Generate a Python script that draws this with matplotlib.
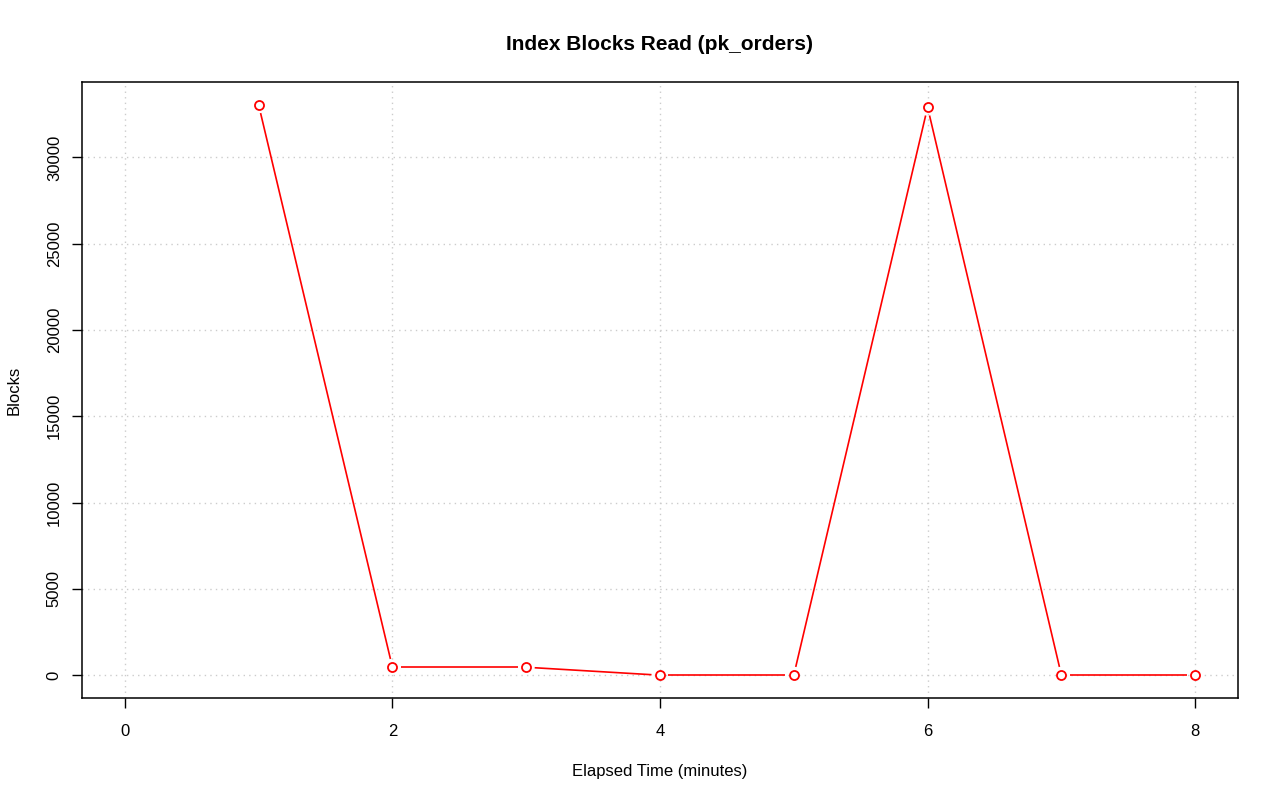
import numpy as np
import matplotlib
matplotlib.use("Agg")
import matplotlib.pyplot as plt

# elapsed minutes and index blocks read
minutes = [1, 2, 3, 4, 5, 6, 7, 8]
blocks = [33050, 460, 460, 0, 0, 32910, 0, 0]
xticks = [0, 2, 4, 6, 8]
yticks = [0, 5000, 10000, 15000, 20000, 25000, 30000]

plt.rcParams['font.family'] = ['Liberation Sans', 'DejaVu Sans']

fig = plt.figure(figsize=(12.8, 8.01), dpi=100)
ax = fig.add_axes([82/1280, 1 - 698/801, (1238-82)/1280, (698-82)/801])

# R-style 4% padding, x range forced to include 0
xmin, xmax = 0, max(minutes)
ymin, ymax = min(blocks), max(blocks)
ax.set_xlim(xmin - 0.04*(xmax-xmin), xmax + 0.04*(xmax-xmin))
ax.set_ylim(ymin - 0.04*(ymax-ymin), ymax + 0.04*(ymax-ymin))

ax.set_xticks(xticks)
ax.set_yticks(yticks)
ax.set_yticklabels([str(v) for v in yticks], rotation=90, va='center')
ax.tick_params(direction='out', length=7.5, width=1, labelsize=12)
ax.tick_params(axis='x', pad=11)
ax.tick_params(axis='y', pad=7)
ax.grid(True, color='#cccccc', linestyle=(0, (1, 3)), linewidth=1)
ax.set_axisbelow(True)
for s in ax.spines.values():
    s.set_linewidth(1.1)

# type="b": segments stop short of the points
gap = 8.5
pts = ax.transData.transform(np.column_stack([minutes, blocks]))
inv = ax.transData.inverted()
for i in range(len(pts) - 1):
    p0, p1 = pts[i], pts[i+1]
    d = p1 - p0
    L = np.hypot(*d)
    if L <= 2*gap:
        continue
    u = d / L
    a = inv.transform(p0 + u*gap)
    b = inv.transform(p1 - u*gap)
    ax.plot([a[0], b[0]], [a[1], b[1]], color='red', lw=1.2, solid_capstyle='butt')

ax.plot(minutes, blocks, linestyle='none', marker='o', markersize=6.5,
        markerfacecolor='white', markeredgecolor='red', markeredgewidth=1.3)

ax.set_title('Index Blocks Read (pk_orders)', fontsize=15, fontweight='bold', pad=23)
ax.set_xlabel('Elapsed Time (minutes)', fontsize=12, labelpad=18)
ax.set_ylabel('Blocks', fontsize=12, labelpad=18)

fig.savefig('out.png', dpi=100)
